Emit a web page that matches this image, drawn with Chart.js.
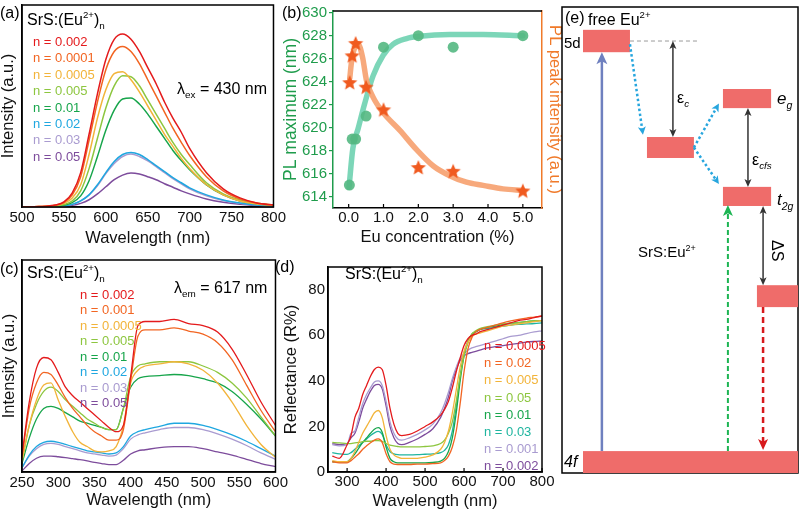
<!DOCTYPE html>
<html><head><meta charset="utf-8">
<script src="https://cdn.jsdelivr.net/npm/chart.js@4.4.1/dist/chart.umd.min.js"></script>
<style>
html,body{margin:0;padding:0;background:#fff;}
body{width:800px;height:513px;position:relative;overflow:hidden;}
.p{position:absolute;}
canvas{display:block;}
</style></head><body>
<div class="p" style="left:0px;top:0px"><canvas id="ca" width="288" height="252"></canvas></div>
<div class="p" style="left:280px;top:0px"><canvas id="cb" width="285" height="252"></canvas></div>
<div class="p" style="left:0px;top:255px"><canvas id="cc" width="290" height="258"></canvas></div>
<div class="p" style="left:270px;top:255px"><canvas id="cd" width="286" height="258"></canvas></div>
<div class="p" style="left:560px;top:0px"><canvas id="ce" width="240" height="480"></canvas></div>
<script>
// ---------------- DATA ----------------
// (a) PL spectra, excitation 430 nm
const aWavelength = [500,520,540,550,560,570,580,590,600,610,620,630,640,650,660,670,680,690,700,720,740,760,780,800];
const aLabels = ['n = 0.002','n = 0.0001','n = 0.0005','n = 0.005','n = 0.01','n = 0.02','n = 0.03','n = 0.05'];
const a_n0002  = [0,0.002,0.01,0.025,0.07,0.17,0.36,0.56,0.73,0.83,0.856,0.83,0.77,0.69,0.61,0.52,0.44,0.37,0.29,0.17,0.09,0.045,0.02,0.01];
const a_n00001 = [0,0.002,0.01,0.022,0.06,0.15,0.33,0.52,0.68,0.77,0.795,0.77,0.71,0.63,0.55,0.47,0.39,0.32,0.255,0.15,0.08,0.04,0.02,0.01];
const a_n00005 = [0,0.002,0.008,0.018,0.045,0.11,0.26,0.44,0.58,0.66,0.67,0.63,0.57,0.50,0.43,0.36,0.30,0.24,0.19,0.11,0.06,0.03,0.015,0.008];
const a_n0005  = [0,0.001,0.005,0.012,0.03,0.08,0.19,0.34,0.49,0.60,0.65,0.645,0.60,0.53,0.46,0.39,0.32,0.26,0.21,0.12,0.065,0.035,0.018,0.01];
const a_n001   = [0,0.001,0.004,0.009,0.022,0.055,0.13,0.25,0.38,0.48,0.535,0.54,0.51,0.46,0.40,0.34,0.28,0.23,0.185,0.11,0.06,0.03,0.016,0.008];
const a_n002   = [0,0.001,0.003,0.006,0.013,0.03,0.06,0.11,0.17,0.225,0.26,0.27,0.26,0.235,0.205,0.175,0.145,0.12,0.095,0.06,0.035,0.02,0.01,0.005];
const a_n003   = [0,0.001,0.003,0.006,0.013,0.03,0.06,0.105,0.165,0.215,0.25,0.262,0.25,0.228,0.2,0.17,0.14,0.115,0.09,0.055,0.032,0.018,0.01,0.005];
const a_n005   = [0,0,0.002,0.004,0.008,0.018,0.036,0.065,0.1,0.135,0.158,0.168,0.163,0.15,0.135,0.115,0.098,0.08,0.065,0.04,0.024,0.014,0.008,0.004];
const aSeries = [a_n0002,a_n00001,a_n00005,a_n0005,a_n001,a_n002,a_n003,a_n005];

// (b) PL maximum and PL peak intensity vs Eu concentration
const bXTicks = [0,1,2,3,4,5];
const bYTicks = [614,616,618,620,622,624,626,628,630];
const bConc = [0.02,0.1,0.2,0.5,1,2,3,5];
const bPLmax = [615,619,619,621,627,628,627,628];
const bStarConc = [0.03,0.1,0.2,0.5,1,2,3,5];
const bPeakInt = [0.634,0.770,0.833,0.611,0.496,0.203,0.184,0.084];
const bFitGreenX = [0.01,0.12,0.27,0.46,0.70,0.99,1.27,1.66,2.04,2.9,3.86,5.0];
const bFitGreenY = [614.8,618.2,619.9,622.1,624.5,626.3,627.25,627.75,627.95,628.1,628.1,628.0];
const bFitOrangeX = [0.03,0.08,0.14,0.27,0.40,0.51,0.70,0.99,1.47,1.95,2.43,2.9,3.38,3.86,4.43,5.0];
const bFitOrangeY = [0.657,0.739,0.796,0.833,0.764,0.648,0.563,0.484,0.394,0.296,0.213,0.164,0.131,0.115,0.097,0.090];

// (c) PLE spectra, emission 617 nm
const cWavelength = [250,260,270,280,290,300,310,320,330,340,350,360,370,380,390,400,410,420,440,460,480,500,520,540,560,580,600];
const cLabels = ['n = 0.002','n = 0.001','n = 0.0005','n = 0.005','n = 0.01','n = 0.02','n = 0.03','n = 0.05'];
const c_n0002  = [0.08,0.33,0.49,0.54,0.53,0.47,0.40,0.36,0.33,0.30,0.27,0.24,0.21,0.19,0.22,0.45,0.69,0.71,0.71,0.72,0.70,0.69,0.66,0.58,0.46,0.33,0.22];
const c_n0001  = [0.07,0.30,0.42,0.47,0.46,0.41,0.35,0.30,0.26,0.22,0.19,0.17,0.15,0.15,0.20,0.43,0.64,0.67,0.67,0.68,0.665,0.65,0.61,0.53,0.41,0.29,0.19];
const c_n00005 = [0.05,0.22,0.34,0.41,0.42,0.34,0.26,0.19,0.14,0.12,0.10,0.095,0.10,0.12,0.22,0.42,0.48,0.50,0.51,0.52,0.51,0.48,0.42,0.33,0.22,0.13,0.07];
const c_n0005  = [0.05,0.22,0.32,0.38,0.40,0.38,0.34,0.31,0.28,0.25,0.23,0.21,0.20,0.20,0.30,0.45,0.50,0.51,0.52,0.52,0.52,0.50,0.47,0.42,0.35,0.26,0.17];
const c_n001   = [0.04,0.16,0.25,0.30,0.31,0.30,0.28,0.26,0.24,0.23,0.22,0.21,0.20,0.20,0.30,0.40,0.44,0.45,0.455,0.46,0.455,0.44,0.42,0.38,0.32,0.25,0.17];
const c_n002   = [0.02,0.08,0.12,0.14,0.145,0.14,0.13,0.12,0.11,0.10,0.095,0.09,0.085,0.09,0.12,0.17,0.19,0.20,0.215,0.23,0.23,0.22,0.20,0.175,0.145,0.11,0.075];
const c_n003   = [0.02,0.075,0.11,0.13,0.135,0.13,0.12,0.11,0.10,0.09,0.085,0.08,0.075,0.08,0.11,0.155,0.175,0.185,0.20,0.21,0.21,0.20,0.18,0.155,0.125,0.09,0.06];
const c_n005   = [0.005,0.04,0.065,0.075,0.075,0.072,0.068,0.063,0.058,0.052,0.045,0.04,0.035,0.035,0.055,0.085,0.10,0.105,0.115,0.12,0.12,0.11,0.095,0.08,0.06,0.04,0.025];
const cSeries = [c_n0002,c_n0001,c_n00005,c_n0005,c_n001,c_n002,c_n003,c_n005];

// (d) diffuse reflectance
const dWavelength = [262,280,300,310,320,330,340,350,360,370,380,390,400,410,420,430,440,460,480,500,520,540,550,560,570,580,590,600,610,620,630,640,660,680,700,720,740,760,780,800];
const dXTicks = [300,400,500,600,700,800];
const dYTicks = [0,20,40,60,80];
const dLabels = ['n = 0.0005','n = 0.02','n = 0.005','n = 0.05','n = 0.01','n = 0.03','n = 0.001','n = 0.002'];
const d_n00005 = [7,6,12,16,24,28,34,38,42,45,46,45,38,28,21,17,16,16.5,18,20,22,25,27.5,31,37,44,50,55.5,58.5,60,60.5,61.5,62.5,63.5,64.5,65.5,66.5,67,67.8,68.5];
const d_n002   = [4.5,4,4,5,6.5,8,10,11.5,12.8,14,14.5,13,8,4.5,3.5,3.3,3.3,3.3,3.5,3.5,3.7,4,5,7,11,18,30,44,54,59,61.5,62.5,63.5,64.5,65.5,66.3,67,67.6,68,68.5];
const d_n0005  = [5,4.5,4.5,6,9,13,17,20,23,26,27,24,16,10,7.5,6.5,6,6,6,6.5,7.5,10,13,18,26,36,46,53,57,59.5,60.5,61,62,63,64,64.5,65,65.5,66,66.5];
const d_n005   = [13,12.8,12.5,12.5,12.8,13,13.3,13.5,13.5,13.8,13.8,13.5,12.5,11.8,11.5,11.2,11,11,11,11.2,11.5,12.5,14,17,22,31,42,51,57,60.5,62,63,63.8,64.5,65,65.3,65.6,66,66.3,66.5];
const d_n001   = [4.5,4.5,4.5,6,8,10.5,13,15,17,18.8,19.5,17.5,11,6,4.5,4,4,4,4,4,4.2,4.8,6,9,15,26,40,51,57,60.5,61.5,62.5,63.5,64,64.8,65.3,65.6,66,66.3,66.5];
const d_n003   = [8.5,8,7.7,8.5,10,11.5,13,14.5,16,17.2,17.8,16.5,12,9,8,7.6,7.5,7.5,7.6,7.8,8,8.5,9.5,12,18,29,42,52,57.5,60,61.5,62.5,63,63.5,64,64.5,64.8,65,65.2,65.5];
const d_n0001  = [12,11.5,12,17,18,24,30,34,37,39.5,40,38,31,22,17,14.5,14,15,16.5,18.5,21,26,30,35,41,46,50,52,53.5,54.5,55,55.5,56.5,57.5,58.5,59.5,60,60.8,61.5,62];
const d_n0002b = [12.5,12,12.5,15,17,22,28,32,35.5,38,38.5,36.5,29,20,15,12.5,12,13,14.5,16.5,19,24,28,33,40,45,49,51,52,52.5,53,53.5,54.5,55,55.5,56,56.5,57,57.3,57.5];
const dSeries = [d_n00005,d_n002,d_n0005,d_n005,d_n001,d_n003,d_n0001,d_n0002b];

// (e) energy-level scheme (arbitrary energy units 0-100, column positions 0-100)
const eLevelNames = ['5d (free Eu2+)','5d barycentre','eg','t2g','relaxed t2g','4f'];
const eLevelX0 = [8.9,36.0,68.2,68.2,82.6,8.9];
const eLevelX1 = [28.8,55.9,88.6,88.6,100,100];
const eLevelTop = [95.1,72.1,82.4,61.4,40.3,4.7];
const eLevelBot = [90.3,67.6,78.3,57.3,35.6,0];

// ---------------- RENDERING ----------------
const FF = "'Liberation Sans', Arial, Helvetica, sans-serif";
Chart.defaults.font.family = FF;
Chart.defaults.color = '#000';
const COL8 = ['#e41a1c','#f26522','#f2b43a','#8dc63f','#17a54b','#1fa7e0','#a99bd0','#7d4c9c'];
const COLD = ['#e41a1c','#f26522','#f2b43a','#8dc63f','#17a54b','#1fb59f','#a99bd0','#7d4c9c'];

function rich(ctx, x, y, parts, size, color) {
  let cx = x;
  ctx.fillStyle = color;
  for (const [t, k] of parts) {
    let fs = size, dy = 0;
    const it = k.indexOf('i') >= 0;
    if (k.indexOf('sup') >= 0) { fs = size * 0.6; dy = -size * 0.42; }
    if (k.indexOf('sub') >= 0) { fs = size * 0.62; dy = size * 0.28; }
    ctx.font = (it ? 'italic ' : '') + fs + 'px ' + FF;
    ctx.fillText(t, cx, y + dy);
    cx += ctx.measureText(t).width;
  }
  return cx;
}
function drawBox(chart, lw) {
  const a = chart.chartArea, ctx = chart.ctx;
  ctx.save(); ctx.strokeStyle = '#000'; ctx.lineWidth = lw || 1.5;
  ctx.strokeRect(a.left, a.top, a.right - a.left, a.bottom - a.top);
  ctx.restore();
}
function inTicksX(chart, len, color) {
  const s = chart.scales.x, a = chart.chartArea, ctx = chart.ctx;
  ctx.save(); ctx.strokeStyle = color; ctx.lineWidth = 1.2;
  s.ticks.forEach(t => { const x = s.getPixelForValue(t.value); ctx.beginPath(); ctx.moveTo(x, a.bottom); ctx.lineTo(x, a.bottom - len); ctx.stroke(); });
  ctx.restore();
}
function lineSets(xs, series, colors, width) {
  return series.map((ys, i) => ({
    data: xs.map((x, j) => ({x: x, y: ys[j]})),
    borderColor: colors[i], borderWidth: width, pointRadius: 0, fill: false,
    cubicInterpolationMode: 'monotone'
  }));
}
function baseOpts() {
  return {responsive: false, animation: false, devicePixelRatio: 1,
    plugins: {legend: {display: false}, tooltip: {enabled: false}}, events: []};
}
const tickFont = {size: 15, family: FF};
const titleFont = {size: 16.5, family: FF};

// ----- (a)
new Chart(document.getElementById('ca'), {
  type: 'line',
  data: {datasets: lineSets(aWavelength, aSeries, COL8, 1.5)},
  options: Object.assign(baseOpts(), {
    layout: {padding: {top: 5, right: 14, left: 0, bottom: 0}},
    scales: {
      x: {type: 'linear', min: 500, max: 800, ticks: {stepSize: 50, font: tickFont, color: '#111', padding: 2, autoSkip: false, maxRotation: 0},
          grid: {display: false, drawTicks: false}, border: {display: true, color: '#000', width: 1.5},
          title: {display: true, text: 'Wavelength (nm)', font: titleFont, color: '#111', padding: {top: 0, bottom: 4}},
          afterFit(s) { s.height = 45; }},
      y: {min: 0, max: 1, ticks: {display: false}, grid: {display: false, drawTicks: false}, border: {display: true, color: '#000', width: 1.5},
          title: {display: true, text: 'Intensity (a.u.)', font: {size: 16.5, family: FF, lineHeight: 1}, color: '#111', padding: {top: 0, bottom: 0}},
          afterFit(s) { s.width = 22; }}
    }
  }),
  plugins: [{id: 'notesA', afterDraw(chart) {
    const ctx = chart.ctx; ctx.save(); drawBox(chart);
    ctx.textBaseline = 'alphabetic';
    rich(ctx, 0, 18, [['(a)', '']], 16, '#000');
    rich(ctx, 27, 25, [['SrS:(Eu', ''], ['2+', 'sup'], [')', ''], ['n', 'sub']], 16, '#000');
    aLabels.forEach((t, i) => rich(ctx, 33, 46 + i * 16.4, [[t, '']], 13, COL8[i]));
    rich(ctx, 177, 94, [['λ', ''], ['ex', 'sub'], [' = 430 nm', '']], 16, '#000');
    ctx.restore();
  }}]
});

// ----- (b)
function makeStar(r, color) {
  const c = document.createElement('canvas'); const s = Math.ceil(r * 2 + 2); c.width = s; c.height = s;
  const g = c.getContext('2d'); g.fillStyle = color; g.beginPath();
  for (let i = 0; i < 10; i++) { const ang = -Math.PI / 2 + i * Math.PI / 5; const rr = i % 2 ? r * 0.45 : r; g.lineTo(s / 2 + rr * Math.cos(ang), s / 2 + rr * Math.sin(ang)); }
  g.closePath(); g.fill(); return c;
}
const GREEN = '#1f9c4c', ORANGE = '#f07a2a';
new Chart(document.getElementById('cb'), {
  type: 'scatter',
  data: {datasets: [
    {data: bStarConc.map((x, i) => ({x: x, y: bPeakInt[i]})), yAxisID: 'y2', pointStyle: makeStar(8, '#f05a1f'), pointRadius: 8, showLine: false},
    {data: bConc.map((x, i) => ({x: x, y: bPLmax[i]})), yAxisID: 'y', pointStyle: 'circle', pointRadius: 5.5, backgroundColor: 'rgba(84,184,130,0.9)', borderColor: 'rgba(84,184,130,0.9)', borderWidth: 0, showLine: false},
    {data: bFitOrangeX.map((x, i) => ({x: x, y: bFitOrangeY[i]})), yAxisID: 'y2', showLine: true, borderColor: 'rgba(246,160,110,0.9)', borderWidth: 5.5, pointRadius: 0, cubicInterpolationMode: 'monotone', borderCapStyle: 'round'},
    {data: bFitGreenX.map((x, i) => ({x: x, y: bFitGreenY[i]})), yAxisID: 'y', showLine: true, borderColor: 'rgba(110,210,176,0.9)', borderWidth: 5.5, pointRadius: 0, cubicInterpolationMode: 'monotone', borderCapStyle: 'round'}
  ]},
  options: Object.assign(baseOpts(), {
    layout: {padding: {top: 5, right: 0, left: 0, bottom: 0}},
    scales: {
      x: {type: 'linear', min: -0.45, max: 5.55, afterBuildTicks(s) { s.ticks = bXTicks.map(v => ({value: v})); },
          ticks: {font: tickFont, color: '#111', padding: 1, autoSkip: false, maxRotation: 0, callback: v => v.toFixed(1)},
          grid: {display: false, drawTicks: false}, border: {display: true, color: '#000', width: 1.5},
          title: {display: true, text: 'Eu concentration (%)', font: titleFont, color: '#111', padding: {top: 0, bottom: 4.5}},
          afterFit(s) { s.height = 44; }},
      y: {type: 'linear', position: 'left', min: 613.0, max: 630.15, afterBuildTicks(s) { s.ticks = bYTicks.map(v => ({value: v})); },
          ticks: {font: tickFont, color: GREEN, padding: 2},
          grid: {display: true, drawOnChartArea: false, drawTicks: true, tickLength: 4, color: GREEN, lineWidth: 1.2},
          border: {display: true, color: GREEN, width: 1.5},
          title: {display: true, text: 'PL maximum (nm)', font: {size: 17.5, family: FF}, color: GREEN, padding: {top: 1, bottom: 0}},
          afterFit(s) { s.width = 53; }},
      y2: {type: 'linear', position: 'right', min: 0, max: 1, ticks: {display: false},
          grid: {display: false, drawTicks: false}, border: {display: true, color: ORANGE, width: 1.5},
          title: {display: true, text: 'PL peak intensity (a.u.)', font: titleFont, color: ORANGE, padding: {top: 1, bottom: 0}},
          afterFit(s) { s.width = 23; }}
    }
  }),
  plugins: [{id: 'notesB', afterDraw(chart) {
    const ctx = chart.ctx, a = chart.chartArea; ctx.save();
    ctx.strokeStyle = '#000'; ctx.lineWidth = 1.5; ctx.beginPath(); ctx.moveTo(a.left, a.top); ctx.lineTo(a.right, a.top); ctx.stroke();
    inTicksX(chart, 4, '#000');
    ctx.translate(-280, 0);
    rich(ctx, 282, 18, [['(b)', '']], 16, '#000');
    ctx.restore();
  }}]
});

// ----- (c)
new Chart(document.getElementById('cc'), {
  type: 'line',
  data: {datasets: lineSets(cWavelength, cSeries, COL8, 1.3)},
  options: Object.assign(baseOpts(), {
    layout: {padding: {top: 5, right: 14, left: 0, bottom: 0}},
    scales: {
      x: {type: 'linear', min: 250, max: 600, ticks: {stepSize: 50, font: tickFont, color: '#111', padding: 2, autoSkip: false, maxRotation: 0},
          grid: {display: false, drawTicks: false}, border: {display: true, color: '#000', width: 1.5},
          title: {display: true, text: 'Wavelength (nm)', font: titleFont, color: '#111', padding: {top: 0, bottom: 3}},
          afterFit(s) { s.height = 41; }},
      y: {min: 0, max: 1, ticks: {display: false}, grid: {display: false, drawTicks: false}, border: {display: true, color: '#000', width: 1.5},
          title: {display: true, text: 'Intensity (a.u.)', font: {size: 16.5, family: FF, lineHeight: 1}, color: '#111', padding: {top: 1, bottom: 0}},
          afterFit(s) { s.width = 22; }}
    }
  }),
  plugins: [{id: 'notesC', afterDraw(chart) {
    const ctx = chart.ctx; ctx.save(); drawBox(chart);
    ctx.translate(0, -255);
    rich(ctx, 0, 274, [['(c)', '']], 16, '#000');
    rich(ctx, 27, 278, [['SrS:(Eu', ''], ['2+', 'sup'], [')', ''], ['n', 'sub']], 16, '#000');
    cLabels.forEach((t, i) => rich(ctx, 80, 298.5 + i * 15.5, [[t, '']], 13, COL8[i]));
    rich(ctx, 174, 293, [['λ', ''], ['em', 'sub'], [' = 617 nm', '']], 16, '#000');
    ctx.restore();
  }}]
});

// ----- (d)
new Chart(document.getElementById('cd'), {
  type: 'line',
  data: {datasets: lineSets(dWavelength, dSeries, COLD, 1.3)},
  options: Object.assign(baseOpts(), {
    layout: {padding: {top: 5, right: 14, left: 0, bottom: 0}},
    scales: {
      x: {type: 'linear', min: 251, max: 800, afterBuildTicks(s) { s.ticks = dXTicks.map(v => ({value: v})); },
          ticks: {font: tickFont, color: '#111', padding: 1, autoSkip: false, maxRotation: 0},
          grid: {display: false, drawTicks: false}, border: {display: true, color: '#000', width: 1.5},
          title: {display: true, text: 'Wavelength (nm)', font: titleFont, color: '#111', padding: {top: 0, bottom: 2}},
          afterFit(s) { s.height = 41; }},
      y: {min: 0, max: 90, afterBuildTicks(s) { s.ticks = dYTicks.map(v => ({value: v})); },
          ticks: {font: tickFont, color: '#111', padding: 3},
          grid: {display: false, drawTicks: false}, border: {display: true, color: '#000', width: 1.5},
          title: {display: true, text: 'Reflectance (R%)', font: titleFont, color: '#111', padding: {top: 12, bottom: 0}},
          afterFit(s) { s.width = 58; }}
    }
  }),
  plugins: [{id: 'notesD', afterDraw(chart) {
    const ctx = chart.ctx; ctx.save(); drawBox(chart);
    inTicksX(chart, 4, '#000');
    ctx.translate(-270, -255);
    rich(ctx, 275, 272, [['(d)', '']], 16, '#000');
    rich(ctx, 345, 279, [['SrS:(Eu', ''], ['2+', 'sup'], [')', ''], ['n', 'sub']], 16, '#000');
    dLabels.forEach((t, i) => rich(ctx, 484, 350 + i * 17.2, [[t, '']], 13, COLD[i]));
    ctx.restore();
  }}]
});

// ----- (e)
function arrowHead(ctx, x, y, ang, L, W, color) {
  ctx.save(); ctx.fillStyle = color; ctx.translate(x, y); ctx.rotate(ang);
  ctx.beginPath(); ctx.moveTo(0, 0); ctx.lineTo(-L, -W); ctx.lineTo(-L * 0.75, 0); ctx.lineTo(-L, W); ctx.closePath(); ctx.fill(); ctx.restore();
}
function arrow(ctx, x1, y1, x2, y2, o) {
  const ang = Math.atan2(y2 - y1, x2 - x1);
  const L = o.L || 9, W = o.W || 4.5;
  let sx = x1, sy = y1, ex = x2 - Math.cos(ang) * L * 0.7, ey = y2 - Math.sin(ang) * L * 0.7;
  if (o.both) { sx = x1 + Math.cos(ang) * L * 0.7; sy = y1 + Math.sin(ang) * L * 0.7; }
  ctx.save(); ctx.strokeStyle = o.color; ctx.lineWidth = o.lw || 1.5; ctx.setLineDash(o.dash || []);
  ctx.beginPath(); ctx.moveTo(sx, sy); ctx.lineTo(ex, ey); ctx.stroke(); ctx.restore();
  arrowHead(ctx, x2, y2, ang, L, W, o.color);
  if (o.both) arrowHead(ctx, x1, y1, ang + Math.PI, L, W, o.color);
}
new Chart(document.getElementById('ce'), {
  type: 'scatter',
  data: {datasets: [{data: []}]},
  options: Object.assign(baseOpts(), {
    layout: {padding: {top: 7, right: 2, left: 2, bottom: 7}},
    scales: {x: {min: 0, max: 100, display: false}, y: {min: 0, max: 100, display: false}}
  }),
  plugins: [{id: 'scheme', afterDraw(chart) {
    const ctx = chart.ctx, xs = chart.scales.x, ys = chart.scales.y;
    const X = u => xs.getPixelForValue(u), Y = u => ys.getPixelForValue(u);
    ctx.save();
    drawBox(chart, 1.5);
    ctx.fillStyle = '#ef6c6a';
    eLevelNames.forEach((n, i) => {
      ctx.fillRect(X(eLevelX0[i]), Y(eLevelTop[i]), X(eLevelX1[i]) - X(eLevelX0[i]), Y(eLevelBot[i]) - Y(eLevelTop[i]));
    });
    const mid = i => (eLevelTop[i] + eLevelBot[i]) / 2;
    ctx.save(); ctx.strokeStyle = '#9a9a9a'; ctx.lineWidth = 1; ctx.setLineDash([4, 3]);
    ctx.beginPath(); ctx.moveTo(X(eLevelX1[0]), Y(mid(0))); ctx.lineTo(X(57.2), Y(mid(0))); ctx.stroke(); ctx.restore();
    arrow(ctx, X(16.9), Y(eLevelTop[5]), X(16.9), Y(eLevelBot[0]), {color: '#6f80bf', lw: 2.5, L: 12, W: 5.5});
    arrow(ctx, X(70.3), Y(eLevelTop[5]), X(70.3), Y(eLevelBot[3]) - 1, {color: '#1db553', lw: 2, dash: [5, 3], L: 11, W: 5});
    arrow(ctx, X(85.2), Y(eLevelBot[4]), X(85.2), Y(eLevelTop[5]) - 1, {color: '#d7191c', lw: 2.5, dash: [6, 4], L: 11, W: 5});
    arrow(ctx, X(47), Y(mid(0)), X(47), Y(eLevelTop[1]), {color: '#333', lw: 1.5, both: true, L: 8, W: 3.5});
    arrow(ctx, X(78.8), Y(eLevelBot[2]), X(78.8), Y(eLevelTop[3]), {color: '#333', lw: 1.5, both: true, L: 8, W: 3.5});
    arrow(ctx, X(85.2), Y(eLevelBot[3]), X(85.2), Y(eLevelTop[4]), {color: '#333', lw: 1.5, both: true, L: 8, W: 3.5});
    const cy = {color: '#27a6de', lw: 2.5, dash: [2.5, 2.5], L: 8, W: 4};
    arrow(ctx, X(eLevelX1[0]), Y(92), X(34.3), Y(72.6), cy);
    arrow(ctx, X(eLevelX1[1]), Y(mid(1)), X(66.5), Y(79.3), cy);
    arrow(ctx, X(eLevelX1[1]), Y(mid(1)), X(66.5), Y(62.0), cy);
    ctx.translate(-560, 0);
    ctx.textBaseline = 'alphabetic';
    rich(ctx, 565, 23, [['(e)', '']], 16, '#000');
    rich(ctx, 588, 25, [['free Eu', ''], ['2+', 'sup']], 16, '#000');
    rich(ctx, 564, 48, [['5d', '']], 15, '#000');
    rich(ctx, 677, 103, [['ε', ''], ['c', 'isub']], 16, '#000');
    rich(ctx, 777, 104, [['e', 'i'], ['g', 'isub']], 17, '#000');
    rich(ctx, 752, 165, [['ε', ''], ['cfs', 'isub']], 16, '#000');
    rich(ctx, 777, 205, [['t', 'i'], ['2g', 'isub']], 17, '#000');
    rich(ctx, 638, 257, [['SrS:Eu', ''], ['2+', 'sup']], 15, '#000');
    rich(ctx, 564, 467, [['4f', 'i']], 16, '#000');
    ctx.save(); ctx.translate(772, 249); ctx.rotate(Math.PI / 2);
    rich(ctx, -9, 0, [['ΔS', '']], 16, '#000'); ctx.restore();
    ctx.restore();
  }}]
});
</script>
</body></html>
